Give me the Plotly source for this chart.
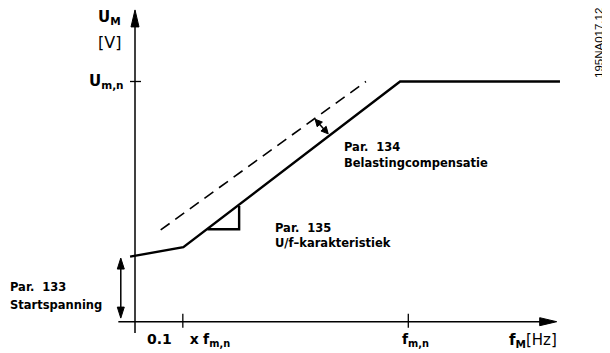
import math
import plotly.graph_objects as go

# ---------------- data (f in units of f_m,n ; U in units of U_m,n) ----------------
freq_solid = [-0.018, 0.177, 0.970, 1.555]
volt_solid = [0.271, 0.310, 1.0, 1.0]
freq_comp = [0.094, 0.845]
volt_comp = [0.382, 1.0]
freq_slope = [0.265, 0.381, 0.381]
volt_slope = [0.385, 0.385, 0.482]
axis_freq = [-0.061, 1.543]
axis_volt = [-0.047, 1.298]
tick_freq = [0.175, 1.0]
tick_freq_labels = ["<b>0.1</b>&nbsp;&nbsp;&nbsp; <b>x</b> <b>f<sub>m,n</sub></b>", "<b>f<sub>m,n</sub></b>"]
tick_volt = [1.0]
tick_volt_labels = ["<b>U<sub>m,n</sub></b>"]
start_arrow_freq = [-0.052, -0.052]
start_arrow_volt = [0.015, 0.265]
comp_arrow_freq = [0.659, 0.707]
comp_arrow_volt = [0.843, 0.782]
label_texts = ["<b>U<sub>M</sub></b>", "[V]", "<b>f<sub>M</sub></b>[Hz]",
               "<b>Par.&nbsp; 133</b>", "<b>Startspanning</b>",
               "<b>Par.&nbsp; 134</b>", "<b>Belastingcompensatie</b>",
               "<b>Par.&nbsp; 135</b>", "<b>U/f\u2013karakteristiek</b>", "195NA017.12"]

# ---------------- layout / calibration ----------------
W, H = 610, 353
OFF = 8  # page body margin in the browser
X0, XS = 135.0, 273.3
Y0, YS = 321.7, 240.2


def fx(p):
    return (p - X0) / XS


def uy(p):
    return (Y0 - p) / YS


def px(f):
    return X0 + f * XS


def py(u):
    return Y0 - u * YS


FONT = dict(family="DejaVu Sans", size=11.5, color="black")
fig = go.Figure()

shapes = []
shapes.append(dict(type="line", xref="x", yref="y", x0=axis_freq[0], x1=axis_freq[1] - 12 / XS,
                   y0=0, y1=0, line=dict(color="black", width=1.5)))
shapes.append(dict(type="line", xref="x", yref="y", x0=0, x1=0, y0=axis_volt[0],
                   y1=axis_volt[1] - 12 / YS, line=dict(color="black", width=1.5)))


def arrowhead(tip_f, tip_u, dx, dy, L, w):
    tx, ty = px(tip_f), py(tip_u)
    n = math.hypot(dx, dy)
    dx, dy = dx / n, dy / n
    bx, by = tx - dx * L, ty - dy * L
    nx, ny = -dy, dx
    pts = [(tx, ty), (bx + nx * w, by + ny * w), (bx - nx * w, by - ny * w)]
    path = "M " + " L ".join(f"{fx(a):.5f},{uy(b):.5f}" for a, b in pts) + " Z"
    shapes.append(dict(type="path", xref="x", yref="y", path=path,
                       fillcolor="black", line=dict(color="black", width=1)))


arrowhead(axis_freq[1], 0, 1, 0, 17, 4)
arrowhead(0, axis_volt[1], 0, -1, 17, 4)

for f in tick_freq:
    shapes.append(dict(type="line", xref="x", yref="y", x0=f, x1=f, y0=uy(Y0 - 8), y1=uy(Y0 + 6),
                       line=dict(color="black", width=1.3)))
for u in tick_volt:
    shapes.append(dict(type="line", xref="x", yref="y", x0=fx(X0 - 5), x1=fx(X0 + 6), y0=u, y1=u,
                       line=dict(color="black", width=1.3)))


def double_arrow(fs, us, L, w, lw):
    x0, y0, x1, y1 = px(fs[0]), py(us[0]), px(fs[1]), py(us[1])
    dx, dy = x1 - x0, y1 - y0
    n = math.hypot(dx, dy)
    ux, uy_ = dx / n, dy / n
    shapes.append(dict(type="line", xref="x", yref="y",
                       x0=fx(x0 + ux * (L - 1)), y0=uy(y0 + uy_ * (L - 1)),
                       x1=fx(x1 - ux * (L - 1)), y1=uy(y1 - uy_ * (L - 1)),
                       line=dict(color="black", width=lw)))
    arrowhead(fs[1], us[1], dx, dy, L, w)
    arrowhead(fs[0], us[0], -dx, -dy, L, w)


double_arrow(start_arrow_freq, start_arrow_volt, 11, 3.5, 1.5)
double_arrow(comp_arrow_freq, comp_arrow_volt, 7, 3.5, 1.5)

fig.add_trace(go.Scatter(x=freq_comp, y=volt_comp, mode="lines",
                         line=dict(color="black", width=1.6, dash="11px,7px"),
                         hoverinfo="skip", showlegend=False))
fig.add_trace(go.Scatter(x=freq_solid, y=volt_solid, mode="lines",
                         line=dict(color="black", width=2.4),
                         hoverinfo="skip", showlegend=False))
fig.add_trace(go.Scatter(x=freq_slope, y=volt_slope, mode="lines",
                         line=dict(color="black", width=2.4),
                         hoverinfo="skip", showlegend=False))

ann = []
label_pos = [
    (fx(123), uy(17), "right", "middle", 0, 15),
    (fx(123), uy(42), "right", "middle", 0, 16),
    (fx(559), uy(340), "right", "middle", 0, 15),
    (fx(8), uy(287), "left", "middle", 0, 11.5),
    (fx(8), uy(305), "left", "middle", 0, 11.5),
    (fx(342), uy(147), "left", "middle", 0, 11.5),
    (fx(342), uy(163), "left", "middle", 0, 11.5),
    (fx(273), uy(228), "left", "middle", 0, 11.5),
    (fx(273), uy(243), "left", "middle", 0, 11.5),
    (fx(599), uy(43), "center", "middle", -90, 11.5),
]
for t, (x, y, xa, ya, ang, sz) in zip(label_texts, label_pos):
    fam = "Liberation Sans" if ang else "DejaVu Sans"
    fnt = dict(family=fam, size=sz, color="black")
    ann.append(dict(x=x, y=y, xref="x", yref="y", text=t, showarrow=False,
                    xanchor=xa, yanchor=ya, textangle=ang, font=fnt))

for f, t in zip(tick_freq, tick_freq_labels):
    xa = "left" if f < 0.5 else "center"
    xx = fx(145) if f < 0.5 else fx(415)
    ann.append(dict(x=xx, y=uy(340), xref="x", yref="y", text=t, showarrow=False,
                    xanchor=xa, yanchor="middle", font=dict(FONT, size=14)))
for u, t in zip(tick_volt, tick_volt_labels):
    ann.append(dict(x=fx(126), y=u, xref="x", yref="y", text=t, showarrow=False,
                    xanchor="right", yanchor="middle", font=dict(FONT, size=15)))

fig.update_layout(
    width=W - OFF, height=H - OFF, margin=dict(l=0, r=0, t=0, b=0, pad=0),
    paper_bgcolor="white", plot_bgcolor="white",
    xaxis=dict(range=[fx(OFF), fx(W)], visible=False, fixedrange=True),
    yaxis=dict(range=[uy(H), uy(OFF)], visible=False, fixedrange=True),
    shapes=shapes, annotations=ann, showlegend=False,
)
fig.write_html("out.html")
